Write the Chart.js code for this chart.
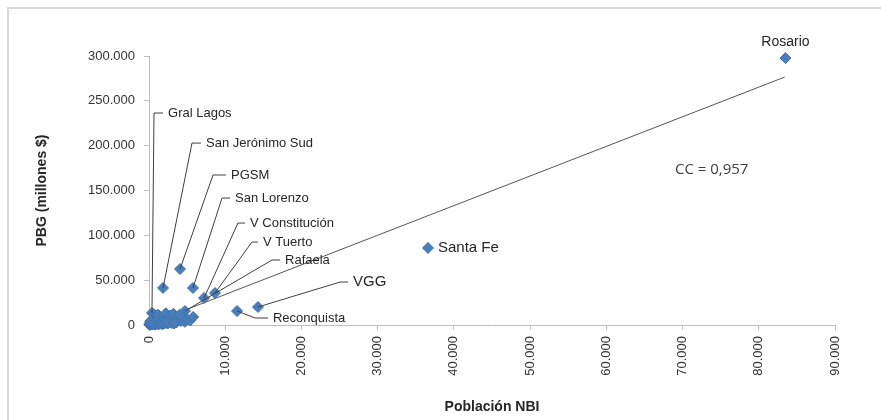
<!DOCTYPE html>
<html>
<head>
<meta charset="utf-8">
<script src="https://cdn.jsdelivr.net/npm/chart.js@4/dist/chart.umd.min.js"></script>
<style>
  body { margin: 0; background: #fff; }
  #wrap { width: 881px; height: 420px; position: relative; }
</style>
</head>
<body>
<div id="wrap"><canvas id="pbg" width="881" height="420"></canvas></div>
<script>
// localidades con nombre (Poblacion NBI, PBG en millones $)
const namedNames = ['Rosario', 'Santa Fe', 'VGG', 'Reconquista', 'PGSM', 'San Jerónimo Sud',
    'San Lorenzo', 'V Constitución', 'V Tuerto', 'Rafaela', 'Gral Lagos'];
const namedX = [83500, 36600, 14300, 11550, 4070, 1840, 5770, 7220, 8660, 4720, 390];
const namedY = [297700, 85900, 20100, 15600, 62400, 41300, 41300, 30100, 35700, 15600, 13400];

// resto de las localidades (nube cerca del origen)
const clusterX = [50, 100, 150, 200, 250, 300, 350, 400, 450, 500, 550, 600, 650, 700, 750, 800, 850, 900,
    950, 1000, 1100, 1150, 1200, 1250, 1300, 1400, 1500, 1600, 1700, 1800, 1900, 2000, 2100, 2200, 2300,
    2400, 2500, 2600, 2700, 2800, 2900, 3000, 3100, 3200, 3400, 3500, 3600, 3800, 4000, 4200, 4400, 4700,
    5000, 5400, 5800, 120, 280, 420, 620, 880, 1050, 1350, 1650, 1950, 2250, 2550, 3300];
const clusterY = [300, 1200, 200, 1500, 2600, 500, 3000, 700, 1800, 800, 4200, 5000, 12000, 2200, 400, 9000,
    1000, 4000, 7000, 1200, 6500, 11500, 3300, 600, 10500, 2000, 7500, 4500, 900, 3500, 9500, 5500, 2500,
    13000, 6000, 1800, 4200, 8000, 3000, 10500, 5000, 2200, 7000, 12500, 4000, 9000, 2800, 6000, 11500,
    4500, 8500, 3500, 6500, 5000, 9000, 3800, 5200, 2900, 1500, 2700, 3800, 1900, 2600, 1300, 3600, 2100, 1600];

// recta de tendencia
const trendX = [0, 83400];
const trendY = [1000, 276500];

// etiquetas con linea guia: punto -> codo -> fin del trazo horizontal (en unidades de datos)
const leaderNames = ['Gral Lagos', 'San Jerónimo Sud', 'PGSM', 'San Lorenzo', 'V Constitución',
    'V Tuerto', 'Rafaela', 'VGG', 'Reconquista'];
const leaderElbowX = [656, 5640, 8400, 9580, 11670, 13510, 16140, 25070, 13910];
const leaderElbowY = [236400, 202900, 167300, 141600, 113700, 92500, 72500, 47900, 7800];
const leaderEndX = [1840, 6820, 10100, 10630, 12600, 14300, 17190, 26120, 15610];

const xTicks = [0, 10000, 20000, 30000, 40000, 50000, 60000, 70000, 80000, 90000];
const yTicks = [0, 50000, 100000, 150000, 200000, 250000, 300000];

const CC_TEXT = 'CC = 0,957';

function fmtMiles(v) {
    return String(v).replace(/\B(?=(\d{3})+(?!\d))/g, '.');
}

let points = [];
for (let i = 0; i < namedX.length; i++) points.push({x: namedX[i], y: namedY[i]});
for (let i = 0; i < clusterX.length; i++) points.push({x: clusterX[i], y: clusterY[i]});

let trend = trendX.map(function (x, i) { return {x: x, y: trendY[i]}; });

const frame = {
    id: 'frame',
    beforeDraw: function (chart) {
        let ctx = chart.ctx;
        ctx.save();
        ctx.fillStyle = '#fff';
        ctx.fillRect(0, 0, chart.width, chart.height);
        ctx.strokeStyle = '#d9d9d9';
        ctx.lineWidth = 2;
        ctx.beginPath();
        ctx.moveTo(8, chart.height);
        ctx.lineTo(8, 8);
        ctx.lineTo(chart.width, 8);
        ctx.stroke();
        ctx.restore();
    }
};

const labels = {
    id: 'labels',
    afterDatasetsDraw: function (chart) {
        let ctx = chart.ctx;
        let sx = chart.scales.x, sy = chart.scales.y;
        ctx.save();
        ctx.strokeStyle = '#404040';
        ctx.lineWidth = 1;
        ctx.fillStyle = '#262626';
        ctx.textBaseline = 'middle';
        ctx.textAlign = 'left';

        for (let i = 0; i < leaderNames.length; i++) {
            let k = namedNames.indexOf(leaderNames[i]);
            let px = sx.getPixelForValue(namedX[k]), py = sy.getPixelForValue(namedY[k]);
            let ex = sx.getPixelForValue(leaderElbowX[i]), ey = sy.getPixelForValue(leaderElbowY[i]);
            let fx = sx.getPixelForValue(leaderEndX[i]);
            ctx.beginPath();
            ctx.moveTo(px, py);
            ctx.lineTo(ex, ey);
            ctx.lineTo(fx, ey);
            ctx.stroke();
            if (leaderNames[i] === 'VGG') {
                ctx.font = '15px "Liberation Sans", Arial, sans-serif';
            } else {
                ctx.font = '13px "Liberation Sans", Arial, sans-serif';
            }
            ctx.fillText(leaderNames[i], fx + 5, ey);
        }

        // Rosario arriba del punto, Santa Fe a la derecha
        let r = namedNames.indexOf('Rosario');
        ctx.font = '14px "Liberation Sans", Arial, sans-serif';
        ctx.textAlign = 'center';
        ctx.fillText('Rosario', sx.getPixelForValue(namedX[r]), sy.getPixelForValue(namedY[r]) - 16);

        let s = namedNames.indexOf('Santa Fe');
        ctx.font = '15px "Liberation Sans", Arial, sans-serif';
        ctx.textAlign = 'left';
        ctx.fillText('Santa Fe', sx.getPixelForValue(namedX[s]) + 10, sy.getPixelForValue(namedY[s]));

        ctx.font = '15px "Open Sans", sans-serif';
        ctx.fillStyle = '#404040';
        ctx.fillText(CC_TEXT, sx.getPixelForValue(69000), sy.getPixelForValue(173000));
        ctx.restore();
    }
};

const axisColor = '#bfbfbf';
const tickFont = {family: '"Liberation Sans", Arial, sans-serif', size: 13};

new Chart(document.getElementById('pbg').getContext('2d'), {
    type: 'scatter',
    data: {
        datasets: [{
            label: 'tendencia',
            data: trend,
            showLine: true,
            borderColor: '#555',
            borderWidth: 1,
            pointRadius: 0,
            order: 2
        }, {
            label: 'localidades',
            data: points,
            clip: false,
            pointStyle: 'rectRot',
            pointRadius: 5.5,
            backgroundColor: '#4a7ebb',
            borderColor: '#3f72b0',
            borderWidth: 1,
            order: 1
        }]
    },
    options: {
        responsive: false,
        animation: false,
        layout: {padding: {left: 30, right: 46, top: 56, bottom: 0}},
        plugins: {
            legend: {display: false},
            tooltip: {enabled: false}
        },
        scales: {
            x: {
                type: 'linear',
                min: 0,
                max: 90000,
                afterBuildTicks: function (axis) {
                    axis.ticks = xTicks.map(function (v) { return {value: v}; });
                },
                afterFit: function (axis) { axis.height = 95; },
                grid: {drawOnChartArea: false, color: axisColor, tickLength: 5},
                border: {color: axisColor},
                ticks: {
                    minRotation: 90,
                    maxRotation: 90,
                    padding: 6,
                    color: '#333',
                    font: tickFont,
                    callback: function (v) { return fmtMiles(v); }
                },
                title: {
                    display: true,
                    text: 'Población NBI',
                    color: '#262626',
                    font: {family: '"Liberation Sans", Arial, sans-serif', size: 14, weight: 'bold'}
                }
            },
            y: {
                type: 'linear',
                min: 0,
                max: 300000,
                afterBuildTicks: function (axis) {
                    axis.ticks = yTicks.map(function (v) { return {value: v}; });
                },
                afterFit: function (axis) { axis.width = 119; },
                grid: {drawOnChartArea: false, color: axisColor, tickLength: 5},
                border: {color: axisColor},
                ticks: {
                    padding: 9,
                    color: '#333',
                    font: tickFont,
                    callback: function (v) { return fmtMiles(v); }
                },
                title: {
                    display: true,
                    text: 'PBG (millones $)',
                    color: '#262626',
                    font: {family: '"Liberation Sans", Arial, sans-serif', size: 14, weight: 'bold'}
                }
            }
        }
    },
    plugins: [frame, labels]
});
</script>
</body>
</html>
